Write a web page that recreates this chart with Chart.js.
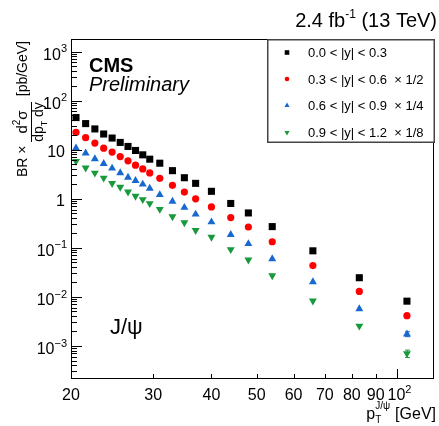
<!DOCTYPE html>
<html lang="en">
<head>
<meta charset="UTF-8">
<title>J/psi cross section vs pT</title>
<script src="https://cdn.jsdelivr.net/npm/chart.js"></script>
<style>
  html, body { margin: 0; padding: 0; background: #fff; }
  canvas { display: block; }
</style>
</head>
<body>
<canvas id="xsecChart" width="439" height="426"></canvas>
<script>
// pT bin centres [GeV]
const ptBins = [20.5, 21.5, 22.5, 23.5, 24.5, 25.5, 26.5, 27.5, 28.5, 29.5,
                31, 33, 35, 37, 40, 44, 48, 54, 66, 83, 105];

// BR x d2sigma/dpT dy [pb/GeV] per rapidity slice (already scaled)
const xsY00 = [45, 33.9, 26.4, 20.8, 17.2, 14.0, 11.6, 9.6, 7.82, 6.38,
               5.28, 3.72, 2.67, 2.05, 1.41, 0.797, 0.511, 0.269, 0.0863, 0.0244, 0.00812];
const xsY03 = [22.4, 17.5, 13.6, 10.7, 8.89, 7.22, 5.89, 4.81, 4.03, 3.34,
               2.60, 1.87, 1.36, 0.99, 0.679, 0.411, 0.264, 0.132, 0.0431, 0.0128, 0.00411];
const xsY06 = [10.7, 8.48, 6.47, 5.18, 4.17, 3.34, 2.72, 2.32, 1.96, 1.62,
               1.20, 0.876, 0.66, 0.481, 0.334, 0.184, 0.120, 0.0592, 0.0200, 0.00565, 0.00173];
const xsY09 = [5.8, 4.23, 3.34, 2.64, 2.05, 1.72, 1.38, 1.125, 0.963, 0.797,
               0.609, 0.431, 0.325, 0.226, 0.164, 0.092, 0.0565, 0.0269, 0.00824, 0.00253, 0.000695];

// uncertainty of the last pT bin (the only one sticking out of the markers)
const lastBinErr = [0.0008, 0.0003, 0.0002, 0.00012];

const sliceLabels = ['0.0 < |y| < 0.3', '0.3 < |y| < 0.6  \u00d7 1/2',
                     '0.6 < |y| < 0.9  \u00d7 1/4', '0.9 < |y| < 1.2  \u00d7 1/8'];
const sliceColors = ['#000000', '#ff0000', '#1769cf', '#17993c'];
const sliceStyles = ['rect', 'circle', 'triangle', 'triangle'];
const sliceRotation = [0, 0, 0, 180];
const sliceRadius = [5, 3.6, 4.6, 4.6];

const xTicks = [20, 30, 40, 50, 60, 70, 80, 90, 100];
const yDecades = [-3, -2, -1, 0, 1, 2, 3];

const FONT = '"Liberation Sans", Arial, Helvetica, sans-serif';
const font = (size, style) => (style ? style + ' ' : '') + size + 'px ' + FONT;

const seriesValues = [xsY00, xsY03, xsY06, xsY09];
const datasets = seriesValues.map((vals, k) => ({
    label: sliceLabels[k],
    data: ptBins.map((pt, i) => ({ x: pt, y: vals[i] })),
    showLine: false,
    pointStyle: sliceStyles[k],
    rotation: sliceRotation[k],
    pointRadius: sliceRadius[k],
    backgroundColor: sliceColors[k],
    borderColor: sliceColors[k],
    borderWidth: 0
}));

// draws "base^exp"; align refers to the whole label
function supText(ctx, base, exp, x, baseline, bs, es, align) {
    ctx.font = font(bs);
    const wb = ctx.measureText(base).width;
    ctx.font = font(es);
    const we = exp ? ctx.measureText(exp).width : 0;
    let x0 = x;
    if (align === 'right') x0 = x - wb - we;
    if (align === 'center') x0 = x - (wb + we) / 2;
    ctx.textAlign = 'left';
    ctx.font = font(bs);
    ctx.fillText(base, x0, baseline);
    if (exp) {
        ctx.font = font(es);
        ctx.fillText(exp, x0 + wb, baseline - bs * 0.45);
    }
}

const decor = {
    id: 'decor',
    afterDatasetsDraw(chart) {
        const { ctx, scales: { x, y } } = chart;
        // error bars on the highest pT bin
        const i = ptBins.length - 1;
        ctx.save();
        ctx.lineWidth = 1;
        seriesValues.forEach((vals, k) => {
            const px = Math.round(x.getPixelForValue(ptBins[i])) + 0.5;
            const y1 = y.getPixelForValue(vals[i] - lastBinErr[k]);
            const y2 = y.getPixelForValue(vals[i] + lastBinErr[k]);
            ctx.strokeStyle = sliceColors[k];
            ctx.beginPath();
            ctx.moveTo(px, y1); ctx.lineTo(px, y2);
            ctx.moveTo(px - 2.5, y1); ctx.lineTo(px + 2.5, y1);
            ctx.moveTo(px - 2.5, y2); ctx.lineTo(px + 2.5, y2);
            ctx.stroke();
        });
        ctx.restore();
    },
    afterDraw(chart) {
        const { ctx, chartArea: a, scales: { x, y } } = chart;
        ctx.save();
        ctx.fillStyle = '#000';
        ctx.strokeStyle = '#000';
        ctx.lineWidth = 1;

        // frame
        ctx.strokeRect(a.left + 0.5, a.top + 0.5, a.right - a.left - 1, a.bottom - a.top - 1);

        // y ticks (log, with minor ticks)
        ctx.beginPath();
        for (let d = -4; d <= 3; d++) {
            for (let m = 1; m <= 9; m++) {
                const v = m * Math.pow(10, d);
                if (v < y.min || v > y.max) continue;
                const py = Math.round(y.getPixelForValue(v)) + 0.5;
                ctx.moveTo(a.left, py);
                ctx.lineTo(a.left + (m === 1 ? 11 : 6), py);
            }
        }
        // x ticks
        xTicks.forEach(v => {
            const px = Math.round(x.getPixelForValue(v)) + 0.5;
            ctx.moveTo(px, a.bottom);
            ctx.lineTo(px, a.bottom - (v === 100 ? 10 : 5));
        });
        ctx.stroke();

        // y tick labels
        ctx.textBaseline = 'alphabetic';
        yDecades.forEach(d => {
            const py = y.getPixelForValue(Math.pow(10, d));
            if (d === 0) supText(ctx, '1', '', 65, py + 7, 16, 11, 'right');
            else if (d === 1) supText(ctx, '10', '', 65, py + 7, 16, 11, 'right');
            else supText(ctx, '10', (d < 0 ? '\u2212' : '') + Math.abs(d), 67, py + 8, 16, 11, 'right');
        });

        // x tick labels
        xTicks.forEach(v => {
            const px = x.getPixelForValue(v);
            if (v === 100) supText(ctx, '10', '2', px - 9.5, a.bottom + 21, 16, 11, 'left');
            else supText(ctx, String(v), '', px, a.bottom + 21, 16, 11, 'center');
        });

        // x axis title: p_T^{J/psi} [GeV]
        ctx.textAlign = 'left';
        ctx.font = font(16);
        const tBase = 419;
        const wGeV = ctx.measureText('[GeV]').width;
        const xGeV = 436 - wGeV;
        ctx.fillText('[GeV]', xGeV, tBase);
        ctx.font = font(10);
        const wSup = ctx.measureText('J/\u03c8').width;
        const xs = xGeV - 5 - wSup;
        ctx.fillText('J/\u03c8', xs, tBase - 10);
        ctx.fillText('T', xs, tBase + 4);
        ctx.font = font(16);
        ctx.fillText('p', xs - ctx.measureText('p').width, tBase);

        // y axis title, rotated
        ctx.save();
        ctx.rotate(-Math.PI / 2);
        ctx.font = font(14);
        ctx.fillText('BR \u00d7', -177, 27);
        // numerator d^2 sigma
        ctx.font = font(15);
        const wd = ctx.measureText('d').width;
        const ws = ctx.measureText('\u03c3').width;
        ctx.font = font(10);
        const w2 = ctx.measureText('2').width;
        const fracMid = -122;
        let u = fracMid - (wd + w2 + ws) / 2;
        ctx.font = font(15);
        ctx.fillText('d', u, 27);
        ctx.font = font(10);
        ctx.fillText('2', u + wd, 20);
        ctx.font = font(15);
        ctx.fillText('\u03c3', u + wd + w2, 27);
        // fraction bar
        ctx.beginPath();
        ctx.moveTo(-142, 31.5);
        ctx.lineTo(-102, 31.5);
        ctx.stroke();
        // denominator dp_T dy
        ctx.font = font(14);
        const wdp = ctx.measureText('dp').width;
        const wdy = ctx.measureText(' dy').width;
        ctx.font = font(9);
        const wT = ctx.measureText('T').width;
        u = fracMid - (wdp + wT + wdy) / 2;
        ctx.font = font(14);
        ctx.fillText('dp', u, 43);
        ctx.font = font(9);
        ctx.fillText('T', u + wdp, 47);
        ctx.font = font(14);
        ctx.fillText(' dy', u + wdp + wT, 43);
        ctx.font = font(14);
        const wpb = ctx.measureText('[pb/GeV]').width;
        ctx.fillText('[pb/GeV]', -41 - wpb, 27);
        ctx.restore();

        // luminosity label
        ctx.font = font(20);
        const wLumi2 = ctx.measureText(' (13 TeV)').width;
        ctx.font = font(12);
        const wExp = ctx.measureText('-1').width;
        ctx.font = font(20);
        const wLumi1 = ctx.measureText('2.4 fb').width;
        let lx = 437 - wLumi2 - wExp - wLumi1;
        ctx.fillText('2.4 fb', lx, 27);
        ctx.font = font(12);
        ctx.fillText('-1', lx + wLumi1, 18);
        ctx.font = font(20);
        ctx.fillText(' (13 TeV)', lx + wLumi1 + wExp, 27);

        // CMS Preliminary
        ctx.font = font(20, 'bold');
        ctx.fillText('CMS', 89, 72);
        ctx.font = font(20, 'italic');
        ctx.fillText('Preliminary', 89, 91);

        // J/psi
        ctx.font = font(22);
        ctx.fillText('J/\u03c8', 110, 334);

        // legend
        const lg = { left: 267, top: 39, right: 435, bottom: 143 };
        ctx.fillStyle = '#fff';
        ctx.fillRect(lg.left, lg.top, lg.right - lg.left, lg.bottom - lg.top);
        ctx.strokeStyle = '#444';
        ctx.lineWidth = 1.5;
        ctx.strokeRect(lg.left + 0.75, lg.top + 0.75, lg.right - lg.left - 1.5, lg.bottom - lg.top - 1.5);
        const rowY = [52.5, 79, 105.5, 132.5];
        chart.data.datasets.forEach((ds, k) => {
            ctx.fillStyle = ds.backgroundColor;
            Chart.helpers.drawPoint(ctx, {
                pointStyle: ds.pointStyle,
                rotation: ds.rotation,
                radius: ds.pointRadius * 0.65,
                borderWidth: 0
            }, 287, rowY[k]);
            ctx.fillStyle = '#000';
            ctx.font = font(13);
            ctx.textBaseline = 'middle';
            ctx.fillText(ds.label, 308, rowY[k] + 1);
            ctx.textBaseline = 'alphabetic';
        });
        ctx.restore();
    }
};

new Chart(document.getElementById('xsecChart'), {
    type: 'scatter',
    data: { datasets },
    options: {
        responsive: false,
        animation: false,
        layout: { padding: { left: 71, right: 4, top: 39, bottom: 47 } },
        plugins: { legend: { display: false }, tooltip: { enabled: false } },
        scales: {
            x: { type: 'logarithmic', min: 20, max: 120, display: false },
            y: { type: 'logarithmic', min: 2.1e-4, max: 1.8e3, display: false }
        }
    },
    plugins: [decor]
});
</script>
</body>
</html>
